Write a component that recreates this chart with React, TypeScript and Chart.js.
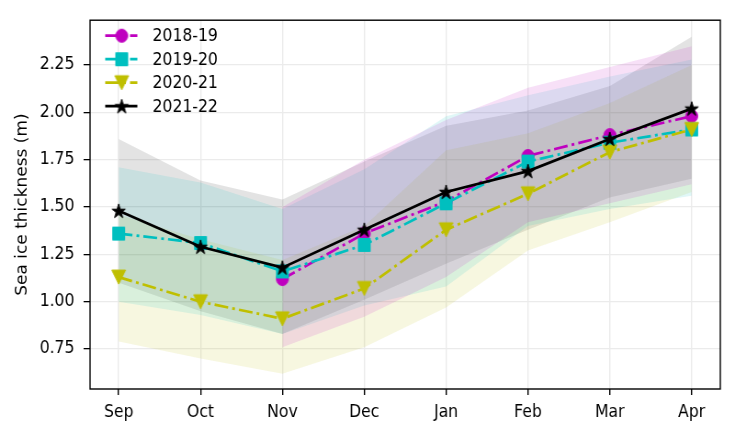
import React, { useEffect, useRef } from 'react';
import { Chart, registerables } from 'chart.js';

Chart.register(...registerables);

// ---------- data ----------
const months = ['Sep', 'Oct', 'Nov', 'Dec', 'Jan', 'Feb', 'Mar', 'Apr'];
const seasons = ['2018-19', '2019-20', '2020-21', '2021-22'];
const yTicks = [0.75, 1.0, 1.25, 1.5, 1.75, 2.0, 2.25];

const mean1819 = [null, null, 1.12, 1.36, 1.53, 1.77, 1.88, 1.98];
const upper1819 = [null, null, 1.5, 1.75, 1.96, 2.13, 2.24, 2.35];
const lower1819 = [null, null, 0.76, 0.92, 1.13, 1.42, 1.52, 1.62];

const mean1920 = [1.36, 1.31, 1.16, 1.3, 1.52, 1.74, 1.84, 1.91];
const upper1920 = [1.71, 1.63, 1.49, 1.7, 1.98, 2.09, 2.19, 2.28];
const lower1920 = [1.0, 0.93, 0.83, 0.98, 1.08, 1.4, 1.49, 1.56];

const mean2021 = [1.13, 1.0, 0.91, 1.07, 1.38, 1.57, 1.79, 1.91];
const upper2021 = [1.46, 1.33, 1.22, 1.4, 1.8, 1.89, 2.05, 2.25];
const lower2021 = [0.79, 0.7, 0.62, 0.76, 0.97, 1.27, 1.42, 1.58];

const mean2122 = [1.48, 1.29, 1.18, 1.38, 1.58, 1.69, 1.86, 2.02];
const upper2122 = [1.86, 1.64, 1.54, 1.74, 1.93, 2.01, 2.14, 2.4];
const lower2122 = [1.1, 0.95, 0.83, 1.01, 1.2, 1.38, 1.55, 1.65];

const seriesColors = ['#bf00bf', '#00bfbf', '#bfbf00', '#000000'];
const bandColors = ['rgba(191,0,191,0.12)', 'rgba(0,191,191,0.12)', 'rgba(191,191,0,0.12)', 'rgba(0,0,0,0.11)'];

// ---------- rendering constants ----------
const W = 800; // internal width (displayed at 735)
const H = 435;
const FONT = 'DejaVu Sans';
const DASH = [15, 4.5, 3, 4.5];

function toPoints(arr: (number | null)[]) {
  const out: { x: number; y: number }[] = [];
  arr.forEach((v, i) => {
    if (v !== null && v !== undefined) out.push({ x: i, y: v });
  });
  return out;
}

function makeMarker(kind: string, color: string): HTMLCanvasElement {
  const c = document.createElement('canvas');
  c.width = 18;
  c.height = 18;
  const ctx = c.getContext('2d')!;
  ctx.fillStyle = color;
  ctx.strokeStyle = color;
  ctx.lineWidth = 1;
  ctx.lineJoin = 'miter';
  const cx = 9, cy = 9;
  ctx.beginPath();
  if (kind === 'circle') {
    ctx.arc(cx, cy, 6.5, 0, Math.PI * 2);
  } else if (kind === 'square') {
    ctx.rect(cx - 6.5, cy - 6.5, 13, 13);
  } else if (kind === 'tri') {
    ctx.moveTo(cx, cy + 7);
    ctx.lineTo(cx - 7.5, cy - 7);
    ctx.lineTo(cx + 7.5, cy - 7);
    ctx.closePath();
  } else {
    const R = 7.6, r = R * 0.382;
    for (let i = 0; i < 10; i++) {
      const ang = -Math.PI / 2 + (i * Math.PI) / 5;
      const rad = i % 2 === 0 ? R : r;
      const px = cx + Math.cos(ang) * rad;
      const py = cy + 0.6 + Math.sin(ang) * rad;
      if (i === 0) ctx.moveTo(px, py);
      else ctx.lineTo(px, py);
    }
    ctx.closePath();
  }
  ctx.fill();
  ctx.stroke();
  return c;
}

export default function App() {
  const ref = useRef<HTMLCanvasElement>(null);

  useEffect(() => {
    const canvas = ref.current!;
    const markers = [
      makeMarker('circle', seriesColors[0]),
      makeMarker('square', seriesColors[1]),
      makeMarker('tri', seriesColors[2]),
      makeMarker('star', seriesColors[3]),
    ];
    const means = [mean1819, mean1920, mean2021, mean2122];
    const uppers = [upper1819, upper1920, upper2021, upper2122];
    const lowers = [lower1819, lower1920, lower2021, lower2122];

    const datasets: any[] = [];
    // bands
    for (let s = 0; s < 4; s++) {
      datasets.push({
        label: seasons[s] + ' upper',
        data: toPoints(uppers[s]),
        borderColor: 'transparent',
        borderWidth: 0,
        pointRadius: 0,
        backgroundColor: bandColors[s],
        fill: '+1',
        order: 20,
      });
      datasets.push({
        label: seasons[s] + ' lower',
        data: toPoints(lowers[s]),
        borderColor: 'transparent',
        borderWidth: 0,
        pointRadius: 0,
        fill: false,
        order: 20,
      });
    }
    // lines: draw order magenta, cyan, yellow, black (black on top)
    for (let s = 0; s < 4; s++) {
      datasets.push({
        label: seasons[s],
        data: toPoints(means[s]),
        borderColor: seriesColors[s],
        backgroundColor: seriesColors[s],
        borderWidth: 2.7,
        borderDash: s < 3 ? DASH : [],
        borderCapStyle: 'butt',
        pointStyle: markers[s],
        pointRadius: 7,
        fill: false,
        order: 4 - s,
      });
    }

    const framePlugin = {
      id: 'frameLegend',
      afterDraw(chart: any) {
        const { ctx, chartArea } = chart;
        ctx.save();
        ctx.strokeStyle = '#000';
        ctx.lineWidth = 1.4;
        ctx.strokeRect(chartArea.left, chartArea.top, chartArea.right - chartArea.left, chartArea.bottom - chartArea.top);
        // legend
        const rows = [35.7, 59.2, 82.7, 106.2];
        const x1 = 114.5, x2 = 149.5, xm = 132.5, xt = 166;
        for (let s = 0; s < 4; s++) {
          const y = rows[s];
          ctx.beginPath();
          ctx.strokeStyle = seriesColors[s];
          ctx.lineWidth = 2.7;
          ctx.lineCap = 'butt';
          ctx.setLineDash(s < 3 ? DASH : []);
          ctx.moveTo(x1, y);
          ctx.lineTo(x2, y);
          ctx.stroke();
          ctx.setLineDash([]);
          const m = markers[s];
          ctx.drawImage(m, xm - m.width / 2, y - m.height / 2);
          ctx.fillStyle = '#000';
          ctx.font = `17px "${FONT}"`;
          ctx.textAlign = 'left';
          ctx.textBaseline = 'middle';
          ctx.fillText(seasons[s], xt, y + 1);
        }
        ctx.restore();
      },
    };

    const chart = new Chart(canvas, {
      type: 'line',
      data: { datasets },
      plugins: [framePlugin],
      options: {
        responsive: false,
        devicePixelRatio: 1,
        animation: false,
        layout: { padding: { left: 0, right: W - 784, top: 15, bottom: 0 } },
        plugins: { legend: { display: false }, tooltip: { enabled: false } },
        scales: {
          x: {
            type: 'linear',
            min: -0.35,
            max: 7.35,
            afterBuildTicks: (scale: any) => {
              scale.ticks = months.map((_, i) => ({ value: i }));
            },
            afterFit: (scale: any) => {
              scale.height = H - 389;
            },
            ticks: {
              callback: (v: any) => months[v] ?? '',
              color: '#000',
              font: { family: FONT, size: 17 },
              padding: 7,
              maxRotation: 0,
              autoSkip: false,
            },
            grid: { color: '#ebebeb', lineWidth: 1.4, tickColor: '#000', tickLength: 6, tickWidth: 1.4 },
            border: { display: false },
          },
          y: {
            type: 'linear',
            min: 0.539,
            max: 2.487,
            afterBuildTicks: (scale: any) => {
              scale.ticks = yTicks.map((v) => ({ value: v }));
            },
            afterFit: (scale: any) => {
              scale.width = 98;
            },
            ticks: {
              callback: (v: any) => Number(v).toFixed(2),
              color: '#000',
              font: { family: FONT, size: 17 },
              padding: 10,
              autoSkip: false,
            },
            grid: { color: '#ebebeb', lineWidth: 1.3, tickColor: '#000', tickLength: 7, tickWidth: 1.3 },
            border: { display: false },
            title: {
              display: true,
              text: 'Sea ice thickness (m)',
              color: '#000',
              font: { family: FONT, size: 17 },
              padding: { top: 14, bottom: 0 },
            },
          },
        },
      },
    });
    return () => chart.destroy();
  }, []);

  return (
    <div style={{ position: 'fixed', left: 0, top: 0, width: 735, height: 435, background: '#fff' }}>
      <canvas ref={ref} width={W} height={H} style={{ width: '735px', height: '435px', display: 'block' }} />
    </div>
  );
}
